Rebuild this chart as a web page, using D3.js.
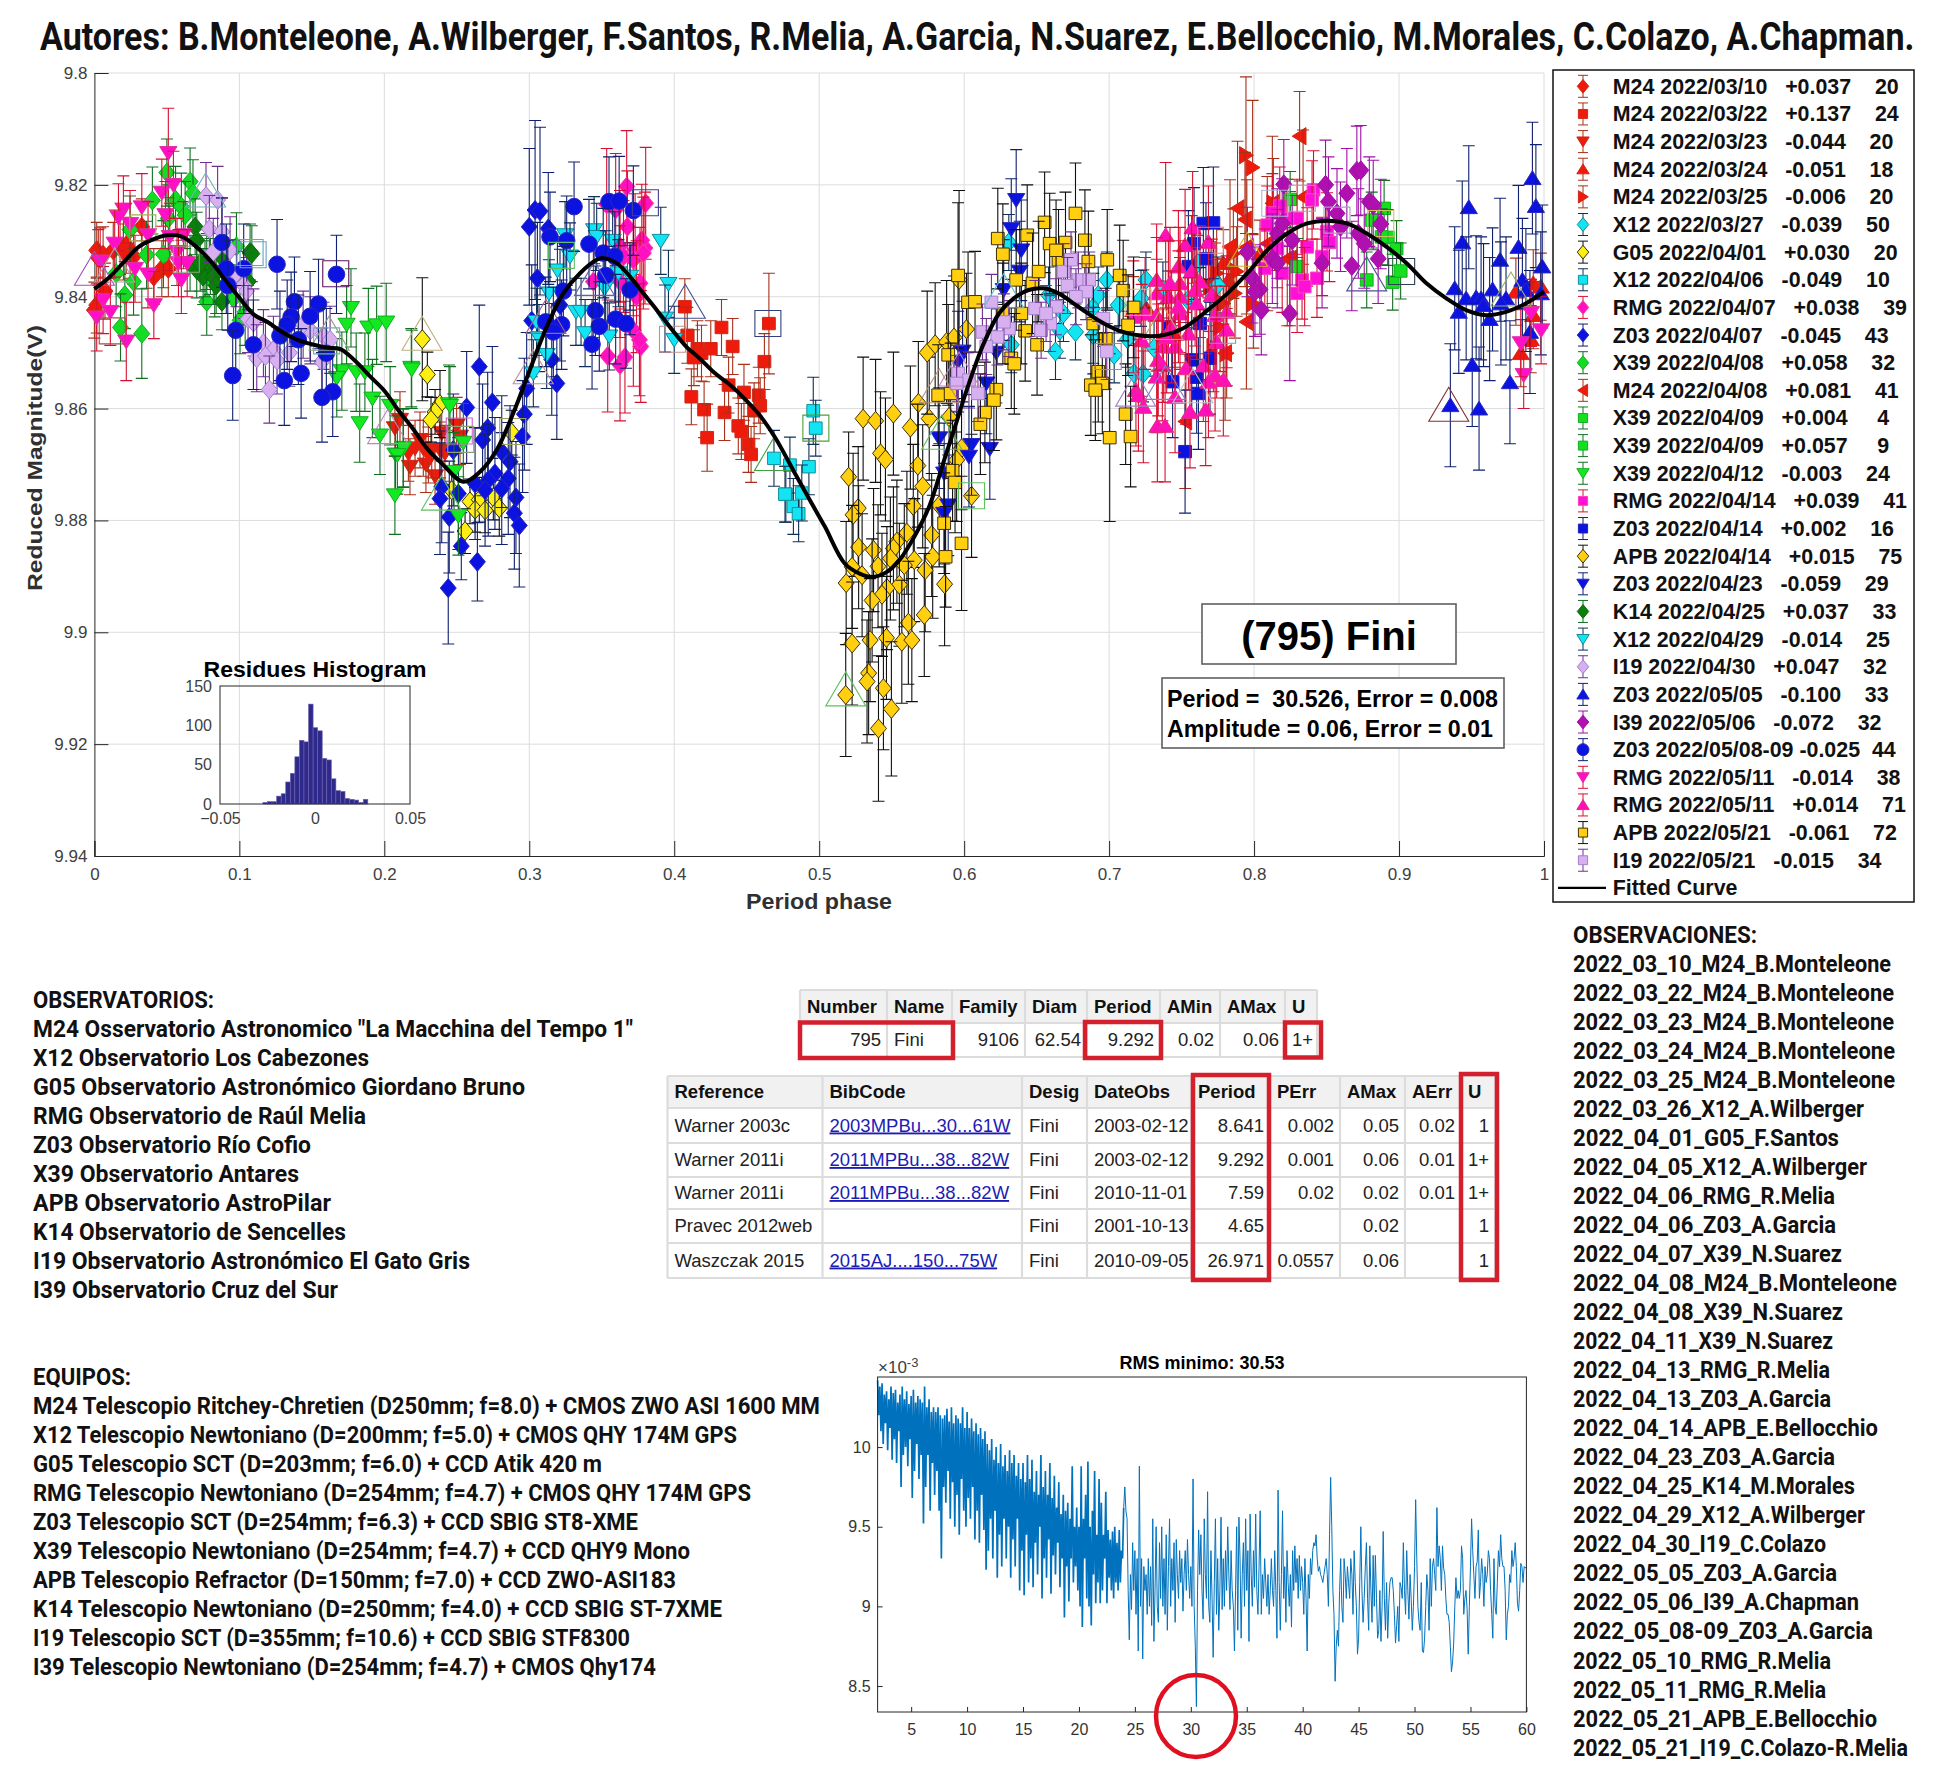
<!DOCTYPE html>
<html>
<head>
<meta charset="utf-8">
<script src="https://cdn.jsdelivr.net/npm/d3@7"></script>
<style>
  body { margin: 0; background: #fff; }
  text { font-family: "Liberation Sans", Arial, sans-serif; }
  .din { font-family: Roboto, sans-serif; font-weight: 700; fill: #111; }
</style>
</head>
<body>
<svg width="1938" height="1781"></svg>
<script>
// ---- lightcurve points: [phase, reduced mag, optional own error]
var m24_0310 = [[.0016,9.8317],[.006,9.8325],[.0177,9.831],[.022,9.8308],[.0327,9.8275],[.020,9.832],[.027,9.8328],[.0465,9.835],[.051,9.835],[.041,9.8364],[.0073,9.839],[.0016,9.8415],[0,9.8424],[.0027,9.833],[.013,9.8317],[.0246,9.8317]];
var m24_0322 = [[.4073,9.8418],[.409,9.8469],[.416,9.8493],[.4136,9.8509],[.4188,9.8501],[.4252,9.8493],[.4326,9.8455],[.4403,9.8489],[.4622,9.8516],[.4653,9.8448,.009],[.4118,9.8579],[.4206,9.8602],[.4227,9.8652,.006],[.4347,9.8607],[.4375,9.8558],[.4481,9.8571],[.4583,9.8576],[.4593,9.8595],[.4551,9.8604],[.4442,9.8631],[.4463,9.8641],[.4512,9.8664],[.453,9.8682]];
var m24_0323 = [[.2073,9.8635],[.2177,9.8704],[.2287,9.87],[.235,9.8721],[.2246,9.8656],[.2327,9.8674],[.2384,9.8674],[.2396,9.8644],[.2499,9.863],[.2522,9.865],[.2166,9.868],[.2212,9.8671],[.2108,9.862],[.2269,9.8671],[.2304,9.8683],[.2418,9.868]];
var m24_0324 = [[.9806,9.8391],[.9926,9.8376],[.9978,9.8382],[.9926,9.8433],[.9909,9.8476],[.984,9.8501],[.8041,9.8323],[.7788,9.834],[.7731,9.8364],[.7823,9.837],[.7455,9.8466],[.7282,9.843],[.7236,9.8412],[.7167,9.8424],[.7374,9.8472]];
var m24_0325 = [[.7944,9.8147,.014],[.799,9.8169,.012],[.7868,9.8394],[.7811,9.8501],[.7742,9.8358],[.788,9.8355],[.7857,9.8323],[.7788,9.8412],[.7765,9.8454],[.8133,9.8233],[.7719,9.849],[.7696,9.8382],[.7995,9.8412]];
var x12_0327 = [[.6308,9.8303],[.6984,9.837],[.7254,9.837],[.6582,9.8397],[.6685,9.843],[.6925,9.8397],[.7063,9.8415],[.6884,9.8421],[.722,9.8403],[.6661,9.846],[.6768,9.8463],[.6891,9.8469],[.7127,9.8476],[.6325,9.8486],[.663,9.8498],[.7035,9.8504],[.731,9.8492],[.7172,9.8537],[.7234,9.8538],[.7749,9.8379],[.7611,9.834],[.7371,9.8388],[.7543,9.8406]];
var g05_0401 = [[.2262,9.8476,.011],[.2297,9.8539],[.2384,9.8592,.006],[.235,9.8606],[.2322,9.862],[.2879,9.8643],[.2591,9.8766],[.2655,9.8763],[.2752,9.8759],[.2626,9.8781],[.2695,9.8782],[.2793,9.8778,.005],[.2557,9.8819],[.2465,9.8746]];
var x12_0406 = [[.4688,9.8689],[.477,9.8753],[.4822,9.8775],[.4858,9.8788],[.4798,9.8701],[.4959,9.8604,.006],[.4976,9.8635],[.4929,9.8704],[.4764,9.8753],[.488,9.8751]];
var rmg_0407 = [[.3672,9.8203],[.3803,9.8233],[.3534,9.8235],[.3596,9.8244],[.3677,9.8275],[.3626,9.831],[.373,9.8316],[.3798,9.8313],[.3776,9.8299],[.365,9.8328],[.3718,9.8334],[.3442,9.8373],[.3626,9.8373],[.3764,9.8376],[.374,9.84],[.3718,9.846],[.3769,9.8489],[.376,9.8477],[.3541,9.8506],[.3626,9.8522],[.366,9.8508],[.3787,9.8322]];
var z03_0407 = [[.3,9.8275,.014],[.304,9.8245,.016],[.3074,9.8247,.015],[.3131,9.8278],[.3056,9.8367],[.3212,9.8415],[.3017,9.8443],[.3155,9.8512],[.319,9.8555],[.2982,9.8564],[.2966,9.861],[.2954,9.865],[.2655,9.8525,.011],[.2745,9.8589],[.2568,9.8598],[.2713,9.8635],[.2678,9.8656],[.2476,9.8674],[.281,9.8677],[.2867,9.8695],[.2763,9.8716],[.2855,9.8725],[.2717,9.8728],[.2626,9.8734],[.281,9.8743],[.2695,9.8746],[.2396,9.874],[.2511,9.8752],[.2384,9.8761],[.2908,9.8759],[.2448,9.8794],[.2897,9.8787],[.2931,9.8809,.011],[.2531,9.8846,.006],[.2642,9.8874,.007],[.2441,9.8921,.01]];
var x39_0408 = [[.05,9.8178],[.066,9.8194],[.068,9.8215],[.056,9.8227],[.04,9.8228],[.06,9.8239],[.0626,9.8254],[.051,9.826],[.0775,9.8409],[.0327,9.8466,.008],[.021,9.8397],[.027,9.8373],[.015,9.8358],[.036,9.8325],[.0476,9.8324],[.018,9.8455],[.083,9.8376],[.096,9.8403],[.104,9.8427],[.1005,9.8442],[.0246,9.828],[.098,9.831]];
var m24_0408 = [[.8314,9.8113,.008],[.8338,9.8222],[.7886,9.8242,.012],[.7937,9.8262],[.7947,9.8445],[.7525,9.8623],[.78,9.8501],[.8126,9.8233],[.8091,9.8305],[.8229,9.8332],[.8248,9.8332],[.795,9.8311],[.7834,9.8311]];
var x39_0409a = [[.8249,9.8226],[.8297,9.8346],[.8777,9.837],[.8956,9.8374]];
var x39_0409b = [[.8897,9.8242],[.8812,9.8263],[.8922,9.8294],[.8983,9.8314],[.9011,9.8354],[.888,9.8293]];
var x39_0412 = [[.177,9.842],[.174,9.845],[.189,9.8455],[.1947,9.8451],[.2013,9.8446],[.2186,9.8527],[.1707,9.8533],[.1806,9.8535],[.1866,9.8535],[.1672,9.8545],[.1918,9.8582],[.183,9.8626],[.204,9.8595],[.197,9.8648],[.2446,9.8592],[.2077,9.8682],[.213,9.867],[.2189,9.853],[.2453,9.8595],[.2545,9.8661],[.2131,9.8671],[.209,9.8683],[.2481,9.8713],[.2073,9.8755],[.2511,9.8792]];
var rmg_0414 = [[.841,9.8209],[.84,9.8227],[.8177,9.8238],[.8126,9.825],[.8297,9.826],[.8229,9.826],[.8091,9.8272],[.8503,9.8284],[.852,9.8303],[.8366,9.8311],[.8194,9.8358],[.8331,9.837],[.8434,9.8367],[.8297,9.8394],[.8349,9.8382],[.816,9.8314],[.8469,9.8328],[.8074,9.8349]];
var z03_0414 = [[.765,9.8269],[.7719,9.8268],[.7586,9.8305],[.7668,9.8332],[.7547,9.8346],[.7409,9.8454],[.7627,9.8448],[.757,9.8513],[.7696,9.851],[.7438,9.8552],[.7604,9.8544],[.7616,9.8573],[.7524,9.8677,.011]];
var apb_0414 = [[.5303,9.8618],[.5389,9.8622],[.5512,9.8609],[.5629,9.8634],[.5684,9.859],[.5759,9.8618],[.5745,9.85,.011],[.58,9.8485],[.5879,9.8481],[.593,9.8473],[.5896,9.8615],[.5965,9.837,.016],[.6016,9.8458,.01],[.5203,9.8722,.008],[.5269,9.8778],[.5234,9.879],[.5423,9.868],[.5457,9.8691],[.568,9.8702],[.5714,9.8739],[.5649,9.8774],[.6051,9.8756],[.5982,9.8671],[.5948,9.8692],[.5828,9.8773],[.5605,9.8822],[.5776,9.8826],[.5536,9.8838],[.5512,9.885],[.5272,9.8848],[.5375,9.8853],[.5656,9.8871],[.5783,9.8865],[.5491,9.8868],[.5227,9.8883],[.5406,9.8882],[.5587,9.888],[.5731,9.8889],[.5296,9.8898],[.5186,9.8912],[.5865,9.8914],[.5553,9.8915],[.5467,9.8921],[.5433,9.8933],[.5365,9.8943],[.5725,9.8969],[.5615,9.8983],[.5227,9.902],[.5351,9.9014],[.5464,9.901],[.557,9.9017],[.5639,9.9014],[.5341,9.9073],[.533,9.9088],[.5443,9.91],[.5183,9.9112],[.5498,9.9137,.012],[.5409,9.9172,.013]];
var z03_0423 = [[.6359,9.8227],[.6325,9.8279],[.6394,9.8317],[.6383,9.8355],[.6273,9.8388],[.5989,9.8498],[.5958,9.8516],[.6222,9.85],[.6051,9.8665],[.6033,9.8686],[.6177,9.8672],[.5828,9.8653],[.589,9.8773],[.5862,9.8788],[.5862,9.8716],[.6153,9.8555]];
var k14_0425 = [[.0695,9.8275],[.0706,9.8299],[.0763,9.835],[.075,9.8364],[.08,9.8346],[.0706,9.8352],[.0775,9.8337],[.088,9.8409],[.1074,9.832],[.1086,9.8323],[.106,9.8373],[.082,9.8364],[.088,9.833],[.066,9.834],[.084,9.838],[.073,9.834]];
var x12_0429 = [[.3247,9.829],[.3447,9.8281],[.3465,9.8293],[.3575,9.83],[.3907,9.83],[.3281,9.8328],[.3194,9.8353],[.3136,9.8394],[.396,9.8377],[.3322,9.8427],[.3357,9.8427],[.3936,9.8439],[.305,9.8445],[.3067,9.8474],[.3385,9.8465],[.3552,9.8471],[.4,9.8477],[.312,9.8504],[.3028,9.8537],[.3615,9.8358],[.3695,9.8364],[.352,9.8385]];
var i19_0430 = [[.077,9.822],[.085,9.8227],[.0793,9.8279],[.088,9.8284],[.082,9.832],[.0936,9.8317],[.098,9.8358],[.103,9.8379],[.105,9.839],[.106,9.844],[.1097,9.8446],[.1166,9.8483],[.1235,9.8495],[.112,9.851],[.118,9.8506],[.126,9.8514],[.1345,9.85],[.1207,9.8566],[.149,9.846],[.158,9.847],[.1626,9.8477],[.157,9.8516],[.144,9.845]];
var z03_0505 = [[.992,9.8188,.01],[.9944,9.8238],[.9481,9.824],[.9436,9.8303],[.9824,9.8311],[.9697,9.8334],[.9988,9.8346],[.9384,9.8385],[.9463,9.8403],[.9532,9.8401],[.9645,9.8387],[.9566,9.8403],[.9583,9.8415],[.9412,9.8427],[.9625,9.844],[.9738,9.8403],[.9851,9.837],[.9903,9.8463],[.9505,9.8522],[.9765,9.8553],[.9354,9.8594,.011],[.9552,9.86],[.9978,9.8394],[.9703,9.8412],[.9875,9.8388]];
var i39_0506 = [[.8709,9.8175],[.8736,9.8174],[.8205,9.8199],[.8493,9.82],[.864,9.8215],[.8513,9.823],[.8795,9.823],[.8822,9.8236],[.8572,9.8251],[.8874,9.827],[.8596,9.8275],[.8719,9.8287],[.876,9.8305],[.8263,9.8299],[.8856,9.8332],[.816,9.8287],[.8126,9.8332],[.7954,9.832],[.8469,9.834],[.8674,9.8345],[.7988,9.8367],[.804,9.8387],[.8006,9.8391],[.805,9.8424],[.8246,9.843,.012],[.8194,9.8269],[.816,9.834]];
var z03_0508 = [[.088,9.8303],[.091,9.835],[.103,9.835],[.092,9.838],[.126,9.8342,.008],[.167,9.836,.007],[.0975,9.846],[.1097,9.8486],[.0954,9.8541],[.138,9.8409],[.1546,9.8413],[.1357,9.8436],[.133,9.845],[.1488,9.8435],[.128,9.847],[.1407,9.8477],[.16,9.8501],[.1426,9.8537],[.131,9.855],[.1644,9.857],[.157,9.858],[.3309,9.8239],[.355,9.823],[.362,9.8229],[.3718,9.8246],[.3143,9.8293],[.3258,9.83],[.3412,9.8306],[.351,9.8322],[.359,9.8328],[.3527,9.8362],[.3695,9.8388],[.3235,9.839],[.3456,9.8425],[.3113,9.8445],[.3223,9.845],[.3166,9.8463],[.3483,9.8453],[.3596,9.844],[.3667,9.8448],[.3433,9.8485]];
var rmg_0511a = [[.051,9.8143,.008],[.0545,9.82],[.0465,9.8214],[.0327,9.824],[.02,9.8244],[.0166,9.8258],[.049,9.8254],[.037,9.829],[.052,9.8293],[.0614,9.829],[.014,9.8305],[.004,9.8337],[.028,9.835],[.037,9.836],[.057,9.832],[.058,9.834],[.064,9.834],[.06,9.837],[.041,9.8415],[.006,9.8406],[.011,9.8427],[.0016,9.8437],[.022,9.848,.007],[.0246,9.827],[.986,9.854],[.984,9.8483],[.998,9.846],[.991,9.8429]];
var rmg_0511b = [[.739,9.829,.013],[.7576,9.8276],[.7524,9.8308],[.7685,9.8302],[.7478,9.8346],[.7569,9.8355],[.7328,9.837],[.7627,9.8373],[.7489,9.8376],[.7328,9.8394],[.7409,9.84],[.7593,9.8388],[.7489,9.84],[.7248,9.843],[.7328,9.8433],[.7489,9.843],[.7604,9.8412],[.7708,9.8397],[.7811,9.8427],[.7731,9.8433],[.7811,9.8459],[.7225,9.8478],[.7374,9.8489],[.7455,9.8489],[.7547,9.8466],[.7742,9.8481],[.7339,9.8513],[.7367,9.8522],[.7328,9.8543],[.753,9.8528],[.765,9.8523],[.7731,9.854],[.7788,9.8549],[.7685,9.8552],[.7455,9.8579],[.7185,9.8567],[.7202,9.8576],[.7236,9.8597],[.7558,9.8606],[.7666,9.8602],[.7333,9.8631],[.7386,9.8631],[.7431,9.8454],[.7397,9.8472],[.7167,9.8436],[.742,9.8376],[.7478,9.8418]];
var apb_0521 = [[.5958,9.8362,.013],[.6027,9.841],[.6075,9.8409],[.6232,9.8296],[.6267,9.8324],[.6435,9.829],[.6555,9.8267],[.659,9.8305],[.6699,9.8303],[.6768,9.8251],[.6833,9.8299],[.6857,9.8337],[.6987,9.8334],[.7073,9.8362],[.7097,9.8389],[.7169,9.8419],[.7131,9.8451],[.6977,9.8475],[.6891,9.8448],[.6421,9.8461],[.6394,9.843],[.6325,9.851],[.6346,9.852],[.6503,9.8486],[.6925,9.8534],[.6874,9.8558],[.6953,9.8555],[.6905,9.8567],[.7114,9.861],[.7004,9.8652,.015],[.7148,9.865],[.6222,9.8566],[.6205,9.8585],[.6143,9.8607],[.6112,9.8628],[.589,9.8504],[.592,9.8711],[.5937,9.8732],[.5821,9.8576],[.5907,9.8573],[.6472,9.8376],[.6359,9.837],[.6514,9.8355],[.5862,9.8805],[.5982,9.8841,.012],[.5872,9.8865],[.6651,9.8334],[.6634,9.8317],[.6267,9.843]];
var i19_0521 = [[.6686,9.8355],[.6737,9.8334],[.6788,9.837],[.6863,9.837],[.6713,9.838],[.6841,9.8391],[.6771,9.84],[.649,9.8421],[.6634,9.8418],[.696,9.8439],[.6593,9.8448],[.6531,9.846],[.6308,9.8457],[.6274,9.8445],[.6126,9.8463],[.6188,9.841],[.6229,9.8472],[.6153,9.8489],[.6984,9.8498],[.5958,9.8537],[.6033,9.8549],[.5948,9.8555],[.6095,9.8573],[.6565,9.843]];

var allSeries = [m24_0310,m24_0322,m24_0323,m24_0324,m24_0325,x12_0327,g05_0401,x12_0406,rmg_0407,z03_0407,x39_0408,m24_0408,x39_0409a,x39_0409b,x39_0412,rmg_0414,z03_0414,apb_0414,z03_0423,k14_0425,x12_0429,i19_0430,z03_0505,i39_0506,z03_0508,rmg_0511a,rmg_0511b,apb_0521,i19_0521];

// legend text
var legendCodes = ["M24","M24","M24","M24","M24","X12","G05","X12","RMG","Z03","X39","M24","X39","X39","X39","RMG","Z03","APB","Z03","K14","X12","I19","Z03","I39","Z03","RMG","RMG","APB","I19"];
var legendDates = ["2022/03/10","2022/03/22","2022/03/23","2022/03/24","2022/03/25","2022/03/27","2022/04/01","2022/04/06","2022/04/07","2022/04/07","2022/04/08","2022/04/08","2022/04/09","2022/04/09","2022/04/12","2022/04/14","2022/04/14","2022/04/14","2022/04/23","2022/04/25","2022/04/29","2022/04/30","2022/05/05","2022/05/06","2022/05/08-09","2022/05/11","2022/05/11","2022/05/21","2022/05/21"];
var legendShifts = ["+0.037","+0.137","-0.044","-0.051","-0.006","-0.039","+0.030","-0.049","+0.038","-0.045","+0.058","+0.081","+0.004","+0.057","-0.003","+0.039","+0.002","+0.015","-0.059","+0.037","-0.014","+0.047","-0.100","-0.072","-0.025","-0.014","+0.014","-0.061","-0.015"];
var legendCounts = ["20","24","20","18","20","50","20","10","39","43","32","41","4","9","24","41","16","75","29","33","25","32","33","32","44","38","71","72","34"];

// fitted curve
var fitPhase = [0,.01,.02,.03,.04,.05,.06,.07,.08,.09,.1,.11,.12,.13,.14,.15,.16,.17,.18,.19,.2,.21,.22,.23,.24,.2545,.266,.2775,.289,.3005,.312,.3235,.335,.3465,.351,.3603,.3695,.3787,.388,.397,.4086,.417,.4277,.4382,.4488,.4593,.4699,.4833,.4936,.5039,.5176,.5279,.5371,.5467,.5553,.5656,.5759,.5862,.593,.6033,.6136,.624,.6342,.6445,.6548,.6651,.6788,.6925,.7062,.72,.7371,.7508,.768,.7817,.7954,.8091,.8229,.8366,.8503,.864,.8777,.8914,.9052,.9189,.9326,.9463,.9601,.9738,.9875,1];
var fitMag = [9.8386,9.8366,9.8339,9.8312,9.8298,9.829,9.8292,9.831,9.8336,9.8369,9.8402,9.8432,9.8446,9.8464,9.8477,9.8485,9.8491,9.8494,9.8515,9.8542,9.8568,9.8604,9.8637,9.8673,9.8699,9.8731,9.8713,9.8674,9.8608,9.853,9.8454,9.8394,9.8358,9.8334,9.8331,9.834,9.8364,9.8394,9.8424,9.8454,9.849,9.8509,9.8536,9.8557,9.8583,9.8613,9.8653,9.8716,9.8764,9.8811,9.8877,9.8895,9.8901,9.8892,9.8871,9.8829,9.8775,9.8692,9.8638,9.8555,9.8483,9.843,9.8403,9.8388,9.8385,9.8394,9.8418,9.8442,9.846,9.8469,9.8469,9.8457,9.8424,9.8394,9.8358,9.8317,9.8287,9.8269,9.8264,9.8269,9.8287,9.8311,9.834,9.8376,9.8403,9.8424,9.8433,9.8427,9.8412,9.8391];

// thin hollow session markers
var hollowTriangles = [[0,9.8351],[.014,9.8345],[.0767,9.8211],[.1619,9.8467],[.226,9.8467],[.2023,9.8634],[.2394,9.8753],[.3027,9.8527],[.3115,9.8437],[.345,9.8369],[.4076,9.841],[.4692,9.8682],[.6273,9.8391],[.5845,9.8644],[.5965,9.8531],[.5828,9.8561],[.7183,9.8567],[.7371,9.8448],[.7388,9.8555],[.7954,9.8317],[.7578,9.8561],[.8777,9.8361],[.9343,9.8594],[.9772,9.8388],[.5183,9.9103]];
var hollowTriColors = ["#a050c0","#b0a0b0","#70b0c0","#90a080","#c0b080","#c080c0","#60c060","#c09090","#a06090","#6060b0","#405090","#40a040","#60c0d0","#60c060","#c080c0","#b09070","#a080c0","#c0a060","#8080c0","#d0b020","#c0c0c0","#505090","#803030","#90b060","#60c060"];
var hollowSquares = [[.0334,9.8277],[.0123,9.8461],[.1074,9.8321],[.1095,9.8325],[.0634,9.8333],[.1602,9.8479],[.1665,9.8359],[.2517,9.864],[.2527,9.8655],[.2886,9.8641],[.3221,9.8326],[.3801,9.8232],[.3988,9.8476],[.4646,9.8448],[.4977,9.8635],[.6051,9.8756],[.6994,9.8507],[.7783,9.846],[.77,9.8299],[.8143,9.8233],[.8332,9.8224],[.8572,9.8263],[.8874,9.8269],[.9018,9.8355],[.72,9.841]];
var hollowSqColors = ["#a0b050","#a05050","#50b0c0","#70a0c0","#90a080","#70b0b0","#601060","#d060d0","#90a070","#a0a060","#60c060","#404090","#c09090","#304080","#50a030","#60c060","#a080c0","#70a0c0","#e080a0","#b0b0d0","#a0a0b0","#a0a0c0","#d0c060","#304050","#d0c080"];

// residues histogram
var histStart = -0.0274, histStep = 0.0024;
var histCounts = [2,3,3,10,13,28,39,60,81,79,127,97,93,58,56,32,17,16,7,6,5,2,6];

// RMS against period, one value every 0.1 from period 2 (units of 1e-3)
var rmsPeriod2to12 = [10.42,10.2,10.38,10.1,10.4,10.02,10.33,10.15,10.35,9.98,10.3,10.12,10.38,9.92,10.34,10.05,10.36,9.9,10.28,10.1,10.33,9.75,10.38,9.95,10.3,10,10.35,9.88,10.27,10.05,10.32,9.68,10.36,9.85,10.28,10.02,10.32,9.8,10.3,9.95,10.28,9.52,10.38,9.75,10.25,9.95,10.3,9.6,10.22,9.9,10.25,9.7,10.22,9.85,10.25,9.6,10.2,9.3,10.18,9.75,10.2,9.65,10.24,9.85,10.16,9.55,10.25,9.78,10.15,9.5,10.2,9.7,10.18,9.45,10.15,9.8,10.25,9.6,10.12,9.5,10.22,9.68,10.12,9.55,10.18,9.75,10.1,9.42,10.15,9.6,10.08,9.4,10.12,9.7,10.05,9.48,10.1,9.23,10.02,9.35];
var rmsPeriod12to24 = [9.98,9.55,10.05,9.3,9.92,9.6,10,9.18,9.9,9.45,10.02,9.25,9.88,9.55,9.95,9.3,9.85,9.5,9.98,9.18,9.9,9.42,9.95,9.25,9.82,9.55,9.9,9.1,9.8,9.35,9.9,9.07,9.78,9.45,9.95,9.15,9.8,9.3,9.92,9.12,9.72,9.4,9.85,9.2,9.7,9.5,9.95,9.05,9.75,9.3,9.85,9.18,9.7,9.42,9.9,9.08,9.68,9.32,9.82,9.2,9.62,9.4,9.78,9.12,9.58,9.3,9.7,8.93,9.6,9.25,9.65,9.03,9.55,9.3,9.88,9.15,9.5,9.25,9.62,9.1,9.5,9,9.88,8.87,9.55,9.3,9.7,9.05,9.91,9,9.5,8.88,9.6,9.2,9.85,9.02,9.45,9.15,9.8,9.02,9.65,9.1,9.45,9.3,9.72,9.02,9.48,9.18,9.42,9.1,9.47,9.05,9.5,9.15,9.4,9.1,9.48,9.15,9.35,9.3];
var rmsPeriod24to36 = [9.62,9.75,9.6,9.55,9.1,8.79,9.2,8.98,9.4,9.1,9.35,8.95,9.3,8.72,9.88,9,9.3,8.67,9.25,9.1,9.2,8.95,9.3,9,9.25,8.88,9.55,8.78,9.1,9.5,9,8.9,9.4,9.05,9.5,9,9.3,8.95,9.45,8.85,9.25,9.55,9,9.3,9.1,9.4,8.9,9.42,9.2,9.05,9.35,9.15,9.3,8.97,9.2,9.35,9.1,9.42,9.2,9.05,9.25,9,9.8,9,8.75,8.37,9.1,9.48,9.2,9.45,9.1,8.92,9.55,9.2,9.05,9.72,9,8.9,9.35,9.05,8.68,9.15,9.55,8.95,9.3,8.85,9.1,9.56,8.98,9.3,9,9.35,9.1,9.5,9.2,8.98,9.35,9.1,9,8.72,9.1,9.5,8.85,9.56,9.3,8.8,9.2,9.4,9,9.55,9.1,9.35,8.78,9.58,9.2,9,9.35,9.12,9.58,9.1];
var rmsPeriod36to48 = [8.95,9.25,9.6,8.95,9.2,9.05,9.3,9.15,9,9.2,8.95,9.1,9.3,9.1,9,9.35,9.1,8.8,9.73,9.15,8.85,9.2,9.6,9.05,9.25,8.9,9.35,9.15,9,9.2,8.87,9.35,9.1,9.38,9.15,9.3,9.05,9.32,9.1,9.25,9.15,8.95,9.3,9.05,8.72,9.2,9.05,9.3,9.2,9.35,9.4,9.38,9.45,9.3,9.22,9.25,9.2,9.18,9.15,9.2,9.25,9.3,9.2,9,9.45,9.81,9.5,9.1,8.95,8.53,8.75,8.85,8.75,9.1,9.3,9,8.9,9.3,9.2,9.05,9.25,9.15,9.05,9.3,9.2,8.95,9.35,9.15,9,8.7,8.8,9.15,9.5,9.1,8.9,9.05,9.25,9.4,9.05,8.85,9.38,9.1,8.9,9.32,9,9.32,9.05,8.8,8.85,9.1,8.78,9,9.47,9.05,8.85,9.15,8.8,9.02,9.15,9.18];
var rmsPeriod48to60 = [9.18,9.1,8.95,8.77,8.88,9,8.78,9.15,9.12,9.05,9.4,9.1,8.95,9.35,9.1,8.92,9.2,9.05,8.85,9,9.25,9.67,9.3,9,8.9,8.85,9.15,8.72,8.71,8.8,9,9.2,9.1,8.85,9.3,9,9.25,9.3,9.2,9.1,9.62,9.25,9.38,9.3,9.1,9.38,9.24,9.2,9.05,8.95,8.95,8.9,8.75,8.59,8.65,8.77,9,9.18,9.05,9.1,9.05,9.1,9.38,9.3,8.95,9.05,9.1,8.98,8.7,9,9.25,9.55,9.35,9.2,9.05,9.25,9.28,9.48,9.05,9.15,9.3,9.2,9,9.25,9.15,9.2,9.35,9.3,9.1,8.95,8.8,9.3,9,8.95,9.15,9.35,9.25,9.45,9.3,9.25,9.25,9.1,8.79,8.95,9,9.2,9.15,9.35,9.25,9.3,9.4,9.25,9.02,8.97,9.1,9.27,9.25,9.15,9.25,9.24,9.25];
var rmsValues = rmsPeriod2to12.concat(rmsPeriod12to24, rmsPeriod24to36, rmsPeriod36to48, rmsPeriod48to60);

// text blocks
var authors = "Autores: B.Monteleone, A.Wilberger, F.Santos, R.Melia, A.Garcia, N.Suarez, E.Bellocchio, M.Morales, C.Colazo, A.Chapman.";
var observatories = ["OBSERVATORIOS:",'M24 Osservatorio Astronomico "La Macchina del Tempo 1"',"X12 Observatorio Los Cabezones","G05 Observatorio Astronómico Giordano Bruno","RMG Observatorio de Raúl Melia","Z03 Observatorio Río Cofio","X39 Observatorio Antares","APB Observatorio AstroPilar","K14 Observatorio de Sencelles","I19 Observatorio Astronómico El Gato Gris","I39 Observatorio Cruz del Sur"];
var equipment = ["EQUIPOS:","M24 Telescopio Ritchey-Chretien (D250mm; f=8.0) + CMOS ZWO ASI 1600 MM","X12 Telescopio Newtoniano (D=200mm; f=5.0) + CMOS QHY 174M GPS","G05 Telescopio SCT (D=203mm; f=6.0) + CCD Atik 420 m","RMG Telescopio Newtoniano (D=254mm; f=4.7) + CMOS QHY 174M GPS","Z03 Telescopio SCT (D=254mm; f=6.3) + CCD SBIG ST8-XME","X39 Telescopio Newtoniano (D=254mm; f=4.7) + CCD QHY9 Mono","APB Telescopio Refractor (D=150mm; f=7.0) + CCD ZWO-ASI183","K14 Telescopio Newtoniano (D=250mm; f=4.0) + CCD SBIG ST-7XME","I19 Telescopio SCT (D=355mm; f=10.6) + CCD SBIG STF8300","I39 Telescopio Newtoniano (D=254mm; f=4.7) + CMOS Qhy174"];
var observations = ["OBSERVACIONES:","2022_03_10_M24_B.Monteleone","2022_03_22_M24_B.Monteleone","2022_03_23_M24_B.Monteleone","2022_03_24_M24_B.Monteleone","2022_03_25_M24_B.Monteleone","2022_03_26_X12_A.Wilberger","2022_04_01_G05_F.Santos","2022_04_05_X12_A.Wilberger","2022_04_06_RMG_R.Melia","2022_04_06_Z03_A.Garcia","2022_04_07_X39_N.Suarez","2022_04_08_M24_B.Monteleone","2022_04_08_X39_N.Suarez","2022_04_11_X39_N.Suarez","2022_04_13_RMG_R.Melia","2022_04_13_Z03_A.Garcia","2022_04_14_APB_E.Bellocchio","2022_04_23_Z03_A.Garcia","2022_04_25_K14_M.Morales","2022_04_29_X12_A.Wilberger","2022_04_30_I19_C.Colazo","2022_05_05_Z03_A.Garcia","2022_05_06_I39_A.Chapman","2022_05_08-09_Z03_A.Garcia","2022_05_10_RMG_R.Melia","2022_05_11_RMG_R.Melia","2022_05_21_APB_E.Bellocchio","2022_05_21_I19_C.Colazo-R.Melia"];

// tables
var summaryHead = ["Number","Name","Family","Diam","Period","AMin","AMax","U"];
var summaryRow = ["795","Fini","9106","62.54","9.292","0.02","0.06","1+"];
var refHead = ["Reference","BibCode","Desig","DateObs","Period","PErr","AMax","AErr","U"];
var refRows = [
  ["Warner 2003c","2003MPBu...30...61W","Fini","2003-02-12","8.641","0.002","0.05","0.02","1"],
  ["Warner 2011i","2011MPBu...38...82W","Fini","2003-02-12","9.292","0.001","0.06","0.01","1+"],
  ["Warner 2011i","2011MPBu...38...82W","Fini","2010-11-01","7.59","0.02","0.02","0.01","1+"],
  ["Pravec 2012web","","Fini","2001-10-13","4.65","","0.02","","1"],
  ["Waszczak 2015","2015AJ....150...75W","Fini","2010-09-05","26.971","0.0557","0.06","","1"]
];

// ---- styles per series, legend order
var shapes = ["dia","sq","dn","up","rt","dia","dia","sq","dia","dia","dia","lf","sq","sq","dn","sq","sq","dia","dn","dia","dn","dia","up","dia","circ","dn","up","sq","sq"];
var fills = ["#ee1a0c","#ee1a0c","#ee1a0c","#ee1a0c","#ee1a0c","#12e4f4","#ffee14","#12e4f4","#ff10c0","#0c12e0","#14dc24","#ee1a0c","#14e020","#14e020","#14e820","#ff10d8","#0c12e0","#ffcf10","#0c12e0","#0a7f0a","#12e4f4","#d8b0f0","#0c12e0","#b010b0","#0c12e0","#ff10c8","#ff10b8","#ffcf10","#d8b0f0"];
var edges = ["#d02818","#d02818","#d02818","#d02818","#d02818","#108c98","#303000","#109098","#ff40a8","#2828c0","#10b020","#d02818","#10b020","#10b020","#10b020","#ff40c0","#2020c0","#403000","#2828c0","#0a6a0a","#108c98","#a080d0","#2828c0","#a010a0","#2828c0","#e030a0","#e03080","#403000","#a080d0"];
var bars = ["#a83018","#a83018","#a83018","#a83018","#a83018","#103058","#101010","#103058","#d81030","#102070","#107020","#a83018","#107020","#107020","#107020","#d81030","#102070","#101010","#102070","#107020","#103058","#703090","#102070","#a010a8","#102070","#d81030","#d81030","#101010","#703090"];
var errs = [.005,.005,.005,.006,.008,.005,.004,.005,.01,.01,.006,.012,.005,.005,.007,.007,.01,.011,.009,.005,.006,.006,.011,.008,.008,.006,.01,.009,.005];

var svg = d3.select("svg");

var fitText = (sel, w) => sel.attr("textLength", w).attr("lengthAdjust", "spacingAndGlyphs");

var markerPath = (shape, s) => {
  var p = d3.path();
  if (shape == "circ") { p.arc(0, 0, 8.3 * s, 0, 2 * Math.PI); return p.toString(); }
  var pts = {
    dia: [[0, -9.5], [8, 0], [0, 9.5], [-8, 0]],
    sq: [[-6.4, -6.2], [6.4, -6.2], [6.4, 6.2], [-6.4, 6.2]],
    dn: [[-8.6, -6.4], [8.6, -6.4], [0, 7.4]],
    up: [[-8.6, 6.4], [8.6, 6.4], [0, -7.4]],
    rt: [[-6.4, -8.6], [7.4, 0], [-6.4, 8.6]],
    lf: [[6.4, -8.6], [-7.4, 0], [6.4, 8.6]]
  }[shape];
  pts.forEach((q, i) => i ? p.lineTo(q[0] * s, q[1] * s) : p.moveTo(q[0] * s, q[1] * s));
  p.closePath();
  return p.toString();
};

// ---- main lightcurve
var xScale = d3.scaleLinear().domain([0, 1]).range([94.4, 1544]);
var yScale = d3.scaleLinear().domain([9.8, 9.94]).range([73, 856]);

var main = svg.append("g");

main.append("g").selectAll("line").data(d3.range(0.1, 1.01, 0.1)).enter().append("line")
  .attr("x1", (d) => xScale(d)).attr("x2", (d) => xScale(d))
  .attr("y1", yScale(9.8)).attr("y2", yScale(9.94)).attr("stroke", "#dcdcdc");
main.append("g").selectAll("line").data(d3.range(9.8, 9.93, 0.02)).enter().append("line")
  .attr("x1", xScale(0)).attr("x2", xScale(1))
  .attr("y1", (d) => yScale(d)).attr("y2", (d) => yScale(d)).attr("stroke", "#dcdcdc");

var xAxis = d3.axisBottom(xScale).tickValues(d3.range(0, 1.01, 0.1)).tickFormat(d3.format("~g")).tickSize(-15).tickPadding(12);
var yAxis = d3.axisLeft(yScale).tickValues(d3.range(9.8, 9.941, 0.02)).tickFormat(d3.format("~g")).tickSize(-14).tickPadding(7);
var gx = main.append("g").attr("transform", "translate(0," + yScale(9.94) + ")").call(xAxis);
var gy = main.append("g").attr("transform", "translate(" + xScale(0) + ",0)").call(yAxis);
[gx, gy].forEach((g) => {
  g.selectAll("text").attr("font-size", 17).attr("fill", "#404040").attr("font-family", "Liberation Sans");
  g.selectAll("line,path").attr("stroke", "#262626");
});

allSeries.forEach((points, k) => {
  var g = main.append("g");
  var one = g.selectAll("g").data(points).enter().append("g")
    .attr("transform", (d) => "translate(" + xScale(d[0]) + "," + yScale(d[1]) + ")");
  var halfBar = (d) => yScale(d[1] + (d[2] || errs[k])) - yScale(d[1]);
  one.append("path").attr("fill", "none").attr("stroke", bars[k]).attr("stroke-width", 1.1)
    .attr("d", (d) => {
      var h = halfBar(d);
      return "M0," + -h + "V" + h + "M-6," + -h + "H6M-6," + h + "H6";
    });
  one.append("path").attr("d", markerPath(shapes[k], 1))
    .attr("fill", fills[k]).attr("stroke", edges[k]).attr("stroke-width", 1);
});

main.append("g").selectAll("path").data(hollowTriangles).enter().append("path")
  .attr("transform", (d) => "translate(" + xScale(d[0]) + "," + yScale(d[1]) + ")")
  .attr("d", "M-20,16L20,16L0,-18Z").attr("fill", "none").attr("stroke-width", 1.1)
  .attr("stroke", (d, i) => hollowTriColors[i]);
main.append("g").selectAll("path").data(hollowSquares).enter().append("path")
  .attr("transform", (d) => "translate(" + xScale(d[0]) + "," + yScale(d[1]) + ")")
  .attr("d", "M-13,-13H13V13H-13Z").attr("fill", "none").attr("stroke-width", 1.1)
  .attr("stroke", (d, i) => hollowSqColors[i]);

var fitLine = d3.line().x((d) => xScale(d)).y((d, i) => yScale(fitMag[i])).curve(d3.curveCatmullRom);
main.append("path").attr("d", fitLine(fitPhase)).attr("fill", "none").attr("stroke", "#000").attr("stroke-width", 4);

fitText(main.append("text").attr("x", 819).attr("y", 909).attr("text-anchor", "middle")
  .attr("font-size", 22).attr("font-weight", 700).attr("fill", "#303030").text("Period phase"), 146);
fitText(main.append("text").attr("transform", "translate(42,458) rotate(-90)").attr("text-anchor", "middle")
  .attr("font-size", 21).attr("font-weight", 700).attr("fill", "#303030").text("Reduced Magnitude(V)"), 266);

// ---- info boxes
main.append("rect").attr("x", 1202).attr("y", 604).attr("width", 254).attr("height", 60)
  .attr("fill", "#fff").attr("stroke", "#606060").attr("stroke-width", 1.6);
main.append("text").attr("x", 1329).attr("y", 650).attr("text-anchor", "middle")
  .attr("font-size", 40).attr("font-weight", 700).text("(795) Fini");
main.append("rect").attr("x", 1162).attr("y", 678).attr("width", 342).attr("height", 70)
  .attr("fill", "#fff").attr("stroke", "#606060").attr("stroke-width", 1.6);
fitText(main.append("text").attr("x", 1167).attr("y", 707).attr("font-size", 23).attr("font-weight", 700)
  .attr("xml:space", "preserve").text("Period =  30.526, Error = 0.008"), 331);
fitText(main.append("text").attr("x", 1167).attr("y", 737).attr("font-size", 23).attr("font-weight", 700)
  .text("Amplitude = 0.06, Error = 0.01"), 326);

// ---- histogram inset
var hx = d3.scaleLinear().domain([-0.05, 0.05]).range([220, 410]);
var hy = d3.scaleLinear().domain([0, 150]).range([804, 686]);
var hist = svg.append("g");
hist.selectAll("rect").data(histCounts).enter().append("rect")
  .attr("x", (d, i) => hx(histStart + i * histStep))
  .attr("width", hx(histStep) - hx(0))
  .attr("y", (d) => hy(d)).attr("height", (d) => hy(0) - hy(d))
  .attr("fill", "#2e2a8c").attr("stroke", "#7060b0").attr("stroke-width", 0.6);
hist.append("rect").attr("x", 220).attr("y", 686).attr("width", 190).attr("height", 118)
  .attr("fill", "none").attr("stroke", "#262626").attr("stroke-width", 1);
var hxAxis = d3.axisBottom(hx).tickValues([-0.05, 0, 0.05]).tickFormat(d3.format("~g")).tickSize(0).tickPadding(9);
var hyAxis = d3.axisLeft(hy).tickValues([0, 50, 100, 150]).tickSize(0).tickPadding(8);
[hist.append("g").attr("transform", "translate(0,804)").call(hxAxis),
 hist.append("g").attr("transform", "translate(220,0)").call(hyAxis)].forEach((g) => {
  g.select(".domain").remove();
  g.selectAll("text").attr("font-size", 16).attr("fill", "#404040").attr("font-family", "Liberation Sans");
});
fitText(hist.append("text").attr("x", 315).attr("y", 677).attr("text-anchor", "middle")
  .attr("font-size", 22).attr("font-weight", 700).text("Residues Histogram"), 223);

// ---- legend
var legend = svg.append("g");
legend.append("rect").attr("x", 1553).attr("y", 70).attr("width", 361).attr("height", 832)
  .attr("fill", "#fff").attr("stroke", "#111").attr("stroke-width", 1.5);
var rowY = (i) => 86.3 + i * 27.64;
legendCodes.forEach((code, i) => {
  var wide = legendDates[i].length > 10;
  var label = code + " " + legendDates[i] + (wide ? " " : "   ") + legendShifts[i] + (wide ? "  " : "    ") + (legendCounts[i].length < 2 ? " " : "") + legendCounts[i];
  var row = legend.append("g").attr("transform", "translate(1583," + rowY(i) + ")");
  row.append("path").attr("d", "M0,-11V11M-5,-11H5M-5,11H5").attr("fill", "none").attr("stroke", bars[i]).attr("stroke-width", 1);
  row.append("path").attr("d", markerPath(shapes[i], 0.72)).attr("fill", fills[i]).attr("stroke", edges[i]);
  legend.append("text").attr("x", 1612.7).attr("y", rowY(i) + 7.5).attr("font-size", 21.4).attr("font-weight", 700)
    .attr("fill", "#111").attr("xml:space", "preserve").text(label);
});
legend.append("line").attr("x1", 1558).attr("x2", 1606).attr("y1", rowY(29)).attr("y2", rowY(29)).attr("stroke", "#000").attr("stroke-width", 2.4);
legend.append("text").attr("x", 1612.7).attr("y", rowY(29) + 7.5).attr("font-size", 21.4).attr("font-weight", 700).attr("fill", "#111").text("Fitted Curve");

// ---- plain text blocks, stretched to the measured line lengths
var title = svg.append("text").attr("class", "din").attr("font-size", 38).text(authors);
title.attr("transform", "translate(40,50) scale(" + 1875 / title.node().getComputedTextLength() + ",1)");

var obsWidths = [181, 600, 336, 492, 333, 278, 266, 298, 313, 437, 305];
var eqWidths = [98, 787, 704, 569, 718, 605, 657, 643, 689, 597, 623];
var runWidths = [184, 318, 321, 321, 322, 322, 291, 266, 294, 262, 263, 269, 324, 270, 260, 257, 258, 305, 262, 282, 292, 253, 264, 286, 300, 258, 253, 304, 335];

var textBlock = (lines, widths, x, y0, step) => {
  svg.append("g").selectAll("text").data(lines).enter().append("text").attr("class", "din")
    .attr("x", x).attr("y", (d, i) => y0 + i * step + 8).attr("font-size", 23)
    .attr("textLength", (d, i) => widths[i]).attr("lengthAdjust", "spacingAndGlyphs").text((d) => d);
};
textBlock(observatories, obsWidths, 33, 1000, 29);
textBlock(equipment, eqWidths, 33, 1377, 29);
textBlock(observations, runWidths, 1573, 934.5, 29.04);

// ---- tables
var linkColor = "#1c1cb4";
var drawTable = (xs, ys, head, rows, rightCols, linkCol) => {
  var g = svg.append("g");
  g.append("rect").attr("x", xs[0]).attr("y", ys[0]).attr("width", xs[xs.length - 1] - xs[0]).attr("height", ys[1] - ys[0]).attr("fill", "#f1f1f1");
  xs.forEach((v) => g.append("line").attr("x1", v).attr("x2", v).attr("y1", ys[0]).attr("y2", ys[ys.length - 1]).attr("stroke", "#dcdcdc").attr("stroke-width", 2.2));
  ys.forEach((v) => g.append("line").attr("x1", xs[0]).attr("x2", xs[xs.length - 1]).attr("y1", v).attr("y2", v).attr("stroke", "#dcdcdc").attr("stroke-width", 2.2));
  head.forEach((h, c) => g.append("text").attr("x", xs[c] + 7).attr("y", (ys[0] + ys[1]) / 2 + 6)
    .attr("font-size", 18.5).attr("font-weight", 700).attr("fill", "#111").text(h));
  rows.forEach((row, r) => row.forEach((v, c) => {
    var right = rightCols.indexOf(c) >= 0;
    var t = g.append("text").attr("x", right ? xs[c + 1] - 6 : xs[c] + 7).attr("y", (ys[r + 1] + ys[r + 2]) / 2 + 6)
      .attr("text-anchor", right ? "end" : "start").attr("font-size", 18.5).attr("fill", "#222").text(v);
    if (c === linkCol) t.attr("fill", linkColor).attr("text-decoration", "underline");
  }));
};
drawTable([800, 887, 952, 1025, 1087, 1160, 1220, 1285, 1317], [990, 1023, 1057], summaryHead, [summaryRow], [0, 2, 3, 4, 5, 6], -1);
drawTable([667.5, 822.5, 1022, 1087, 1191, 1270, 1340, 1405, 1461, 1495], [1076, 1108, 1143, 1177, 1209, 1243, 1278], refHead, refRows, [4, 5, 6, 7, 8], 1);

var redBoxes = [[800, 1022.5, 153, 35.5], [1085, 1022, 76, 36], [1285, 1022.5, 36, 35], [1193, 1075, 76, 205], [1461, 1074, 36, 206]];
svg.append("g").selectAll("rect").data(redBoxes).enter().append("rect")
  .attr("x", (d) => d[0]).attr("y", (d) => d[1]).attr("width", (d) => d[2]).attr("height", (d) => d[3])
  .attr("fill", "none").attr("stroke", "#d3202c").attr("stroke-width", 4.5);

// ---- RMS periodogram
var px = d3.scaleLinear().domain([2, 60]).range([877.6, 1526.4]);
var py = d3.scaleLinear().domain([8.337, 10.44]).range([1712, 1377]);
var rms = svg.append("g");
var rmsLine = d3.line().x((d) => px(2 + d * 0.1)).y((d) => py(rmsValues[d]));
// the dense short-period part reads almost solid, so it gets a heavier stroke
rms.append("path").attr("fill", "none").attr("stroke", "#0072bd").attr("stroke-width", 1.7)
  .attr("d", rmsLine(d3.range(0, 221)));
rms.append("path").attr("fill", "none").attr("stroke", "#0072bd").attr("stroke-width", 1)
  .attr("d", rmsLine(d3.range(220, rmsValues.length)));
rms.append("rect").attr("x", 877.6).attr("y", 1377).attr("width", 648.8).attr("height", 335)
  .attr("fill", "none").attr("stroke", "#262626").attr("stroke-width", 1);
var pxAxis = d3.axisBottom(px).tickValues(d3.range(5, 61, 5)).tickSize(-5).tickPadding(12);
var pyAxis = d3.axisLeft(py).tickValues([8.5, 9, 9.5, 10]).tickFormat(d3.format("~g")).tickSize(-5).tickPadding(7);
[rms.append("g").attr("transform", "translate(0,1712)").call(pxAxis),
 rms.append("g").attr("transform", "translate(877.6,0)").call(pyAxis)].forEach((g) => {
  g.select(".domain").remove();
  g.selectAll("line").attr("stroke", "#262626");
  g.selectAll("text").attr("font-size", 16).attr("fill", "#333").attr("font-family", "Liberation Sans");
});
var exp = rms.append("text").attr("x", 878).attr("y", 1373).attr("font-size", 17).attr("fill", "#404040");
exp.append("tspan").text("×10");
exp.append("tspan").attr("dy", -6).attr("font-size", 13).text("-3");
rms.append("text").attr("x", 1202).attr("y", 1369).attr("text-anchor", "middle").attr("font-size", 18).attr("font-weight", 700).text("RMS minimo: 30.53");
rms.append("ellipse").attr("cx", 1196).attr("cy", 1716).attr("rx", 40).attr("ry", 41)
  .attr("fill", "none").attr("stroke", "#e01020").attr("stroke-width", 4.5);
</script>
</body>
</html>
